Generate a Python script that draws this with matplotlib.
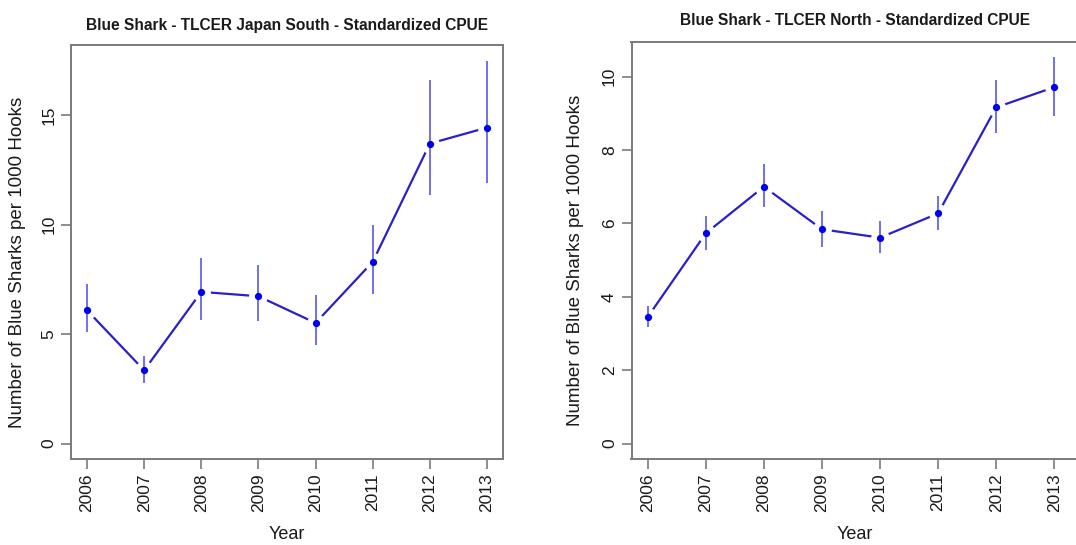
import matplotlib
matplotlib.use("Agg")
import matplotlib.pyplot as plt

plt.rcParams["font.family"] = ["Liberation Sans", "DejaVu Sans"]

W, H = 1076, 545

years = [2006, 2007, 2008, 2009, 2010, 2011, 2012, 2013]

# TLCER Japan South
south_cpue = [6.09, 3.35, 6.93, 6.73, 5.51, 8.30, 13.70, 14.43]
south_lo = [5.08, 2.77, 5.63, 5.58, 4.49, 6.85, 11.37, 11.90]
south_hi = [7.30, 3.99, 8.49, 8.14, 6.77, 10.00, 16.62, 17.49]

# TLCER North
north_cpue = [3.45, 5.73, 7.00, 5.84, 5.61, 6.27, 9.16, 9.71]
north_lo = [3.18, 5.27, 6.44, 5.36, 5.20, 5.82, 8.47, 8.93]
north_hi = [3.75, 6.20, 7.61, 6.34, 6.07, 6.75, 9.91, 10.53]

AXIS_GREY = "#7a7a7a"
LINE_BLUE = "#2a1fc8"
CI_BLUE = "#6f6ff2"
PT_BLUE = "#0000ee"


def px_axes(fig, left, right, top, bottom):
    return fig.add_axes([left / W, (H - bottom) / H, (right - left) / W, (bottom - top) / H])


def cpue_panel(ax, title, cpue, lo, hi, yticks, ylim, xlim, title_pad, ylab_x):
    # line with gaps around the points (R type="b"), drawn via white knockout markers
    ax.plot(years, cpue, color=LINE_BLUE, lw=1.6, marker="o", ms=12.5,
            mfc="white", mec="white", zorder=2)
    ax.vlines(years, lo, hi, color=CI_BLUE, lw=1.4, zorder=3)
    ax.plot(years, cpue, ls="none", marker="o", ms=4.2, color=PT_BLUE, zorder=4)

    ax.set_xlim(*xlim)
    ax.set_ylim(*ylim)
    ax.set_xticks(years)
    ax.set_xticklabels([str(y) for y in years], rotation=90)
    ax.set_yticks(yticks)
    ax.set_yticklabels([str(t) for t in yticks], rotation=90, va="center")
    ax.tick_params(colors=AXIS_GREY, labelcolor="#1a1a1a", labelsize=12.5,
                   length=7, width=1.2, direction="out")
    ax.tick_params(axis="y", pad=3.5)
    for sp in ax.spines.values():
        sp.set_color(AXIS_GREY)
        sp.set_linewidth(1.4)
    ax.set_xlabel("Year", fontsize=13, color="#1a1a1a", labelpad=10)
    ax.set_ylabel("Number of Blue Sharks per 1000 Hooks", fontsize=13.5,
                  color="#1a1a1a")
    ax.yaxis.set_label_coords(ylab_x, 0.476)
    ax.set_title(title, fontsize=11.2, fontweight="bold", color="#1a1a1a", pad=title_pad)


fig = plt.figure(figsize=(W / 100, H / 100), dpi=100)

ax1 = px_axes(fig, 71, 503, 45, 459)
cpue_panel(ax1, "Blue Shark - TLCER Japan South - Standardized CPUE",
           south_cpue, south_lo, south_hi, [0, 5, 10, 15],
           (-0.7, 18.2), (2005.72, 2013.28), 11, -0.105)

ax2 = px_axes(fig, 631.5, 1078, 41.7, 459)
cpue_panel(ax2, "Blue Shark - TLCER North - Standardized CPUE",
           north_cpue, north_lo, north_hi, [0, 2, 4, 6, 8, 10],
           (-0.42, 10.95), (2005.72, 2013.41), 12, -0.107)

fig.savefig("out.png", dpi=100)
